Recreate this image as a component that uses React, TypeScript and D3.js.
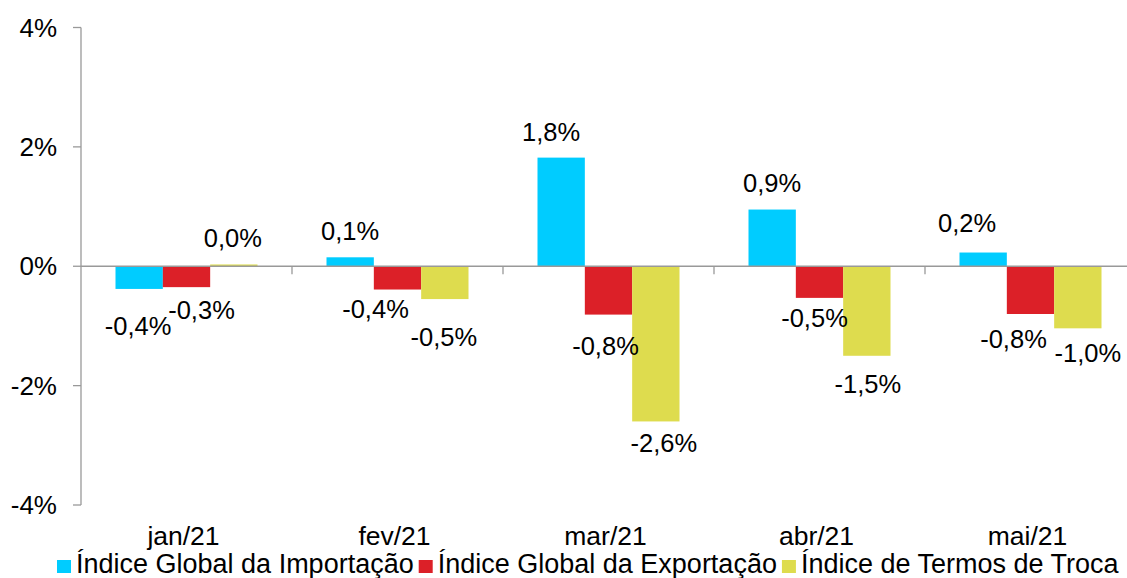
import React, { useEffect, useRef } from 'react';
import * as d3 from 'd3';

const categories = ['jan/21', 'fev/21', 'mar/21', 'abr/21', 'mai/21'];
const seriesNames = ['Índice Global da Importação', 'Índice Global da Exportação', 'Índice de Termos de Troca'];
const importValues = [-0.38, 0.15, 1.82, 0.95, 0.23];
const exportValues = [-0.35, -0.39, -0.81, -0.53, -0.8];
const tradeValues = [0.03, -0.55, -2.6, -1.5, -1.04];
const importLabels = ['-0,4%', '0,1%', '1,8%', '0,9%', '0,2%'];
const exportLabels = ['-0,3%', '-0,4%', '-0,8%', '-0,5%', '-0,8%'];
const tradeLabels = ['0,0%', '-0,5%', '-2,6%', '-1,5%', '-1,0%'];
const yTicks = [-4, -2, 0, 2, 4];
const yTickLabels = ['-4%', '-2%', '0%', '2%', '4%'];
const colors = ['#00CCFF', '#DC2028', '#DEDC4E'];
// manual label nudges (px): relative to bar centre (dx) and bar end (dy)
const importDx = [-1, 0, -10, 0, -16];
const exportDx = [15, -22, -3, -5, -17];
const tradeDx = [-1, -1, 8, 1, 10];
const importDy = [46, -17.5, -17, -17.7, -21];
const exportDy = [31.6, 28, 40, 29, 34];
const tradeDy = [-17.7, 46.6, 31, 37, 34];

const W = 1127;
const H = 578;
const FONT = "'Liberation Sans', Arial, sans-serif";

export default function App() {
  const ref = useRef<SVGSVGElement>(null);

  useEffect(() => {
    const svg = d3.select(ref.current);
    svg.selectAll('*').remove();

    const values = [importValues, exportValues, tradeValues];
    const labels = [importLabels, exportLabels, tradeLabels];
    const dxs = [importDx, exportDx, tradeDx];
    const dys = [importDy, exportDy, tradeDy];

    const left = 81;
    const band = 211;
    const x = d3.scaleBand<string>().domain(categories).range([left, left + band * categories.length]).padding(0);
    const y = d3.scaleLinear().domain([-4, 4]).range([505, 27.5]);
    const xs = d3.scaleBand<number>().domain([0, 1, 2]).range([34.5, band - 34.5]).padding(0);

    const text = (g: any, px: number, py: number, s: string, size: number, anchor: string) =>
      g.append('text')
        .attr('x', px)
        .attr('y', py)
        .attr('text-anchor', anchor)
        .attr('font-size', size)
        .attr('font-family', FONT)
        .attr('fill', '#000')
        .text(s);

    const axisColor = '#999999';

    // y axis
    svg.append('line').attr('x1', left).attr('x2', left).attr('y1', y(4)).attr('y2', y(-4))
      .attr('stroke', axisColor).attr('stroke-width', 1.3);
    yTicks.forEach((t, i) => {
      svg.append('line').attr('x1', left - 8).attr('x2', left).attr('y1', y(t)).attr('y2', y(t))
        .attr('stroke', axisColor).attr('stroke-width', 1.3);
      text(svg, 57, y(t) + 9, yTickLabels[i], 26, 'end');
    });

    // bars
    values.forEach((vals, s) => {
      vals.forEach((v, i) => {
        const bx = (x(categories[i]) as number) + (xs(s) as number);
        const y0 = y(0);
        const y1 = y(v);
        svg.append('rect')
          .attr('x', bx)
          .attr('width', xs.bandwidth())
          .attr('y', Math.min(y0, y1))
          .attr('height', Math.abs(y1 - y0))
          .attr('fill', colors[s]);
      });
    });

    // x axis (zero line)
    svg.append('line').attr('x1', left).attr('x2', left + band * categories.length)
      .attr('y1', y(0)).attr('y2', y(0)).attr('stroke', axisColor).attr('stroke-width', 1.3);
    categories.forEach((c, i) => {
      if (i > 0) {
        const tx = x(c) as number;
        svg.append('line').attr('x1', tx).attr('x2', tx).attr('y1', y(0)).attr('y2', y(0) + 8)
          .attr('stroke', axisColor).attr('stroke-width', 1.3);
      }
      text(svg, (x(c) as number) + band / 2 - 3, 545, c, 26.5, 'middle');
    });

    // data labels
    values.forEach((vals, s) => {
      vals.forEach((v, i) => {
        const cx = (x(categories[i]) as number) + (xs(s) as number) + xs.bandwidth() / 2;
        text(svg, cx + dxs[s][i], y(v) + dys[s][i], labels[s][i], 25.5, 'middle');
      });
    });

    // legend
    let lx = 57;
    const ly = 573;
    seriesNames.forEach((name, s) => {
      svg.append('rect').attr('x', lx).attr('y', ly - 13).attr('width', 14).attr('height', 13).attr('fill', colors[s]);
      const t = text(svg, lx + 19, ly, name, 27, 'start');
      const w = (t.node() as SVGTextElement).getComputedTextLength();
      lx = lx + 19 + w + 5;
    });
  }, []);

  return (
    <svg
      ref={ref}
      width={W}
      height={H}
      style={{ position: 'absolute', left: 0, top: 0, background: '#fff' }}
    />
  );
}
